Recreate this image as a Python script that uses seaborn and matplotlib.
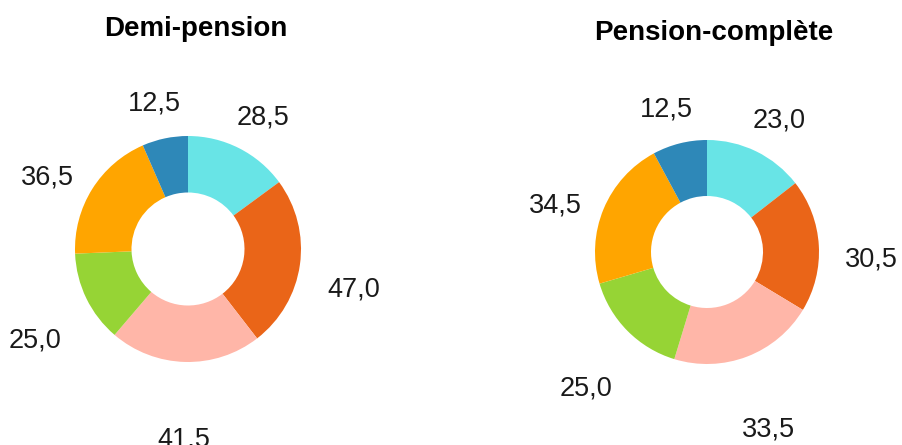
import numpy as np
import matplotlib
matplotlib.use("Agg")
import matplotlib.pyplot as plt
import seaborn as sns

# data, clockwise from 12 o'clock
titles = ["Demi-pension", "Pension-complète"]
demi_values = [28.5, 47.0, 41.5, 25.0, 36.5, 12.5]
complete_values = [23.0, 30.5, 33.5, 25.0, 34.5, 12.5]
slice_colors = ["#68E4E6", "#EA6518", "#FFB6A8", "#96D435", "#FFA500", "#2E88B8"]

sns.set_theme(style="white")
plt.rcParams["font.family"] = ["Liberation Sans", "DejaVu Sans"]
palette = sns.color_palette(slice_colors)

W, H = 903, 445
fig = plt.figure(figsize=(W / 100, H / 100), dpi=100)

# (center x px, center y px from top, radius px, title y px from top)
layout = [(188, 249, 113, 29), (707, 252, 112, 33)]
panels = [demi_values, complete_values]

for i, (values, title, (cx, cy, r, ty)) in enumerate(zip(panels, titles, layout)):
    x0 = 0 if i == 0 else W / 2
    ax = fig.add_axes([x0 / W, 0, (W / 2) / W, 1])
    wedges, _ = ax.pie(values, colors=palette, startangle=90, counterclock=False,
                       radius=1.0, wedgeprops=dict(width=0.5, linewidth=0))
    for w, v in zip(wedges, values):
        ang = np.deg2rad((w.theta1 + w.theta2) / 2)
        dx, dy = np.cos(ang), np.sin(ang)
        d = 1.47 + 0.07 * max(0, -dy)
        ax.text(d * dx, d * dy - 0.15, f"{v:.1f}".replace(".", ","),
                ha="center", va="center", fontsize=19.5, color="#1a1a1a")
    ax.set_aspect("auto")
    ax.set_xlim((x0 - cx) / r, (x0 + W / 2 - cx) / r)
    ax.set_ylim(-(H - cy) / r, cy / r)
    ax.text((8 if i == 0 else 7) / r, (cy - ty) / r, title,
            ha="center", va="center", fontsize=20, fontweight="bold", color="black")
    ax.axis("off")

fig.savefig("out.png", dpi=100)
